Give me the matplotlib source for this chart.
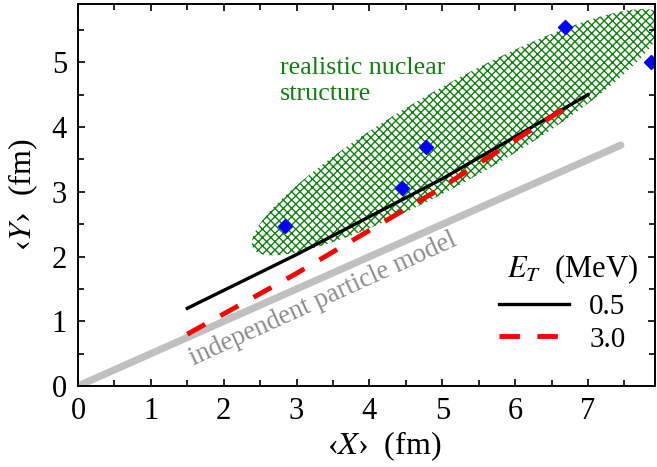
import numpy as np
import matplotlib
matplotlib.use('Agg')
import matplotlib.pyplot as plt
from matplotlib.patches import Polygon

plt.rcParams['font.family'] = ['Liberation Serif', 'DejaVu Serif']
plt.rcParams['mathtext.fontset'] = 'stix'
plt.rcParams['hatch.linewidth'] = 1.0

# calculated <Y> vs <X> for two transfer energies
x_05 = [1.5, 3.0, 5.0, 7.0]
y_05 = [1.2, 2.03, 3.2, 4.5]
x_30 = [1.5, 3.0, 4.9, 6.86]
y_30 = [0.80, 1.74, 3.0, 4.42]

# independent particle model
x_ipm = [0.0, 7.45]
y_ipm = [0.0, 3.72]

# realistic structure points
x_pts = [2.84, 4.45, 4.77, 6.69, 7.86]
y_pts = [2.47, 3.06, 3.69, 5.55, 5.00]

# band of realistic nuclear structure: centre and semi-axis vectors
band_center = (5.21, 3.92)
band_major = (2.805, 1.794)
band_minor = (0.318, -0.632)

fig = plt.figure(figsize=(6.57, 4.67), dpi=100)
ax = fig.add_axes([78/657, 1-386/467, 577/657, 382/467])

t = np.linspace(0, 2*np.pi, 300)
ex = band_center[0] + np.cos(t)*band_major[0] + np.sin(t)*band_minor[0]
ey = band_center[1] + np.cos(t)*band_major[1] + np.sin(t)*band_minor[1]
band = Polygon(np.column_stack([ex, ey]), closed=True, facecolor='none',
               edgecolor='#108010', hatch='xxxx', linewidth=0)
ax.add_patch(band)

ax.plot(x_ipm, y_ipm, color='#c0c0c0', lw=5.2, solid_capstyle='round')
l1, = ax.plot(x_05, y_05, color='black', lw=2.4)
l2, = ax.plot(x_30, y_30, color='red', lw=3.5, dashes=(4.2, 3.6))
ax.plot(x_pts, y_pts, 'D', color='blue', ms=7, clip_on=True)

ax.text(2.77, 5.08, 'realistic nuclear\nstructure', color='#108010',
        fontsize=18.7, ha='left', va='top', linespacing=1.25)
ax.text(1.58, 0.32, 'independent particle model', color='#8c8c8c',
        fontsize=19.3, rotation=24.5, rotation_mode='anchor',
        ha='left', va='baseline')

ax.set_xlim(0, 7.92)
ax.set_ylim(0, 5.9)
ax.set_xticks(range(0, 8))
ax.set_yticks(range(0, 6))
ax.set_xticks(np.arange(0.5, 8, 1), minor=True)
ax.set_yticks(np.arange(0.5, 6, 1), minor=True)
ax.tick_params(which='both', direction='in', top=True, right=True,
               labelsize=22, width=1.2)
ax.tick_params(which='major', length=5, pad=8)
ax.tick_params(which='minor', length=4)
for s in ax.spines.values():
    s.set_linewidth(1.4)

ax.set_xlabel('‹$X$›  (fm)', fontsize=23)
ax.set_ylabel('‹$Y$›  (fm)', fontsize=23)
ax.xaxis.set_label_coords(0.53, -0.115)
ax.yaxis.set_label_coords(-0.066, 0.5)

# legend title drawn separately so it can sit indented over the labels
ax.text(5.885, 1.68, '$E_T$  (MeV)', fontsize=22, ha='left', va='baseline')
leg = ax.legend([l1, l2], ['0.5', '3.0'],
                loc='upper left', bbox_to_anchor=(0.730, 0.241),
                frameon=False, fontsize=21,
                handlelength=2.4, handletextpad=0.69, labelspacing=0.2,
                borderpad=0, borderaxespad=0)

fig.savefig('out.png', dpi=100)
